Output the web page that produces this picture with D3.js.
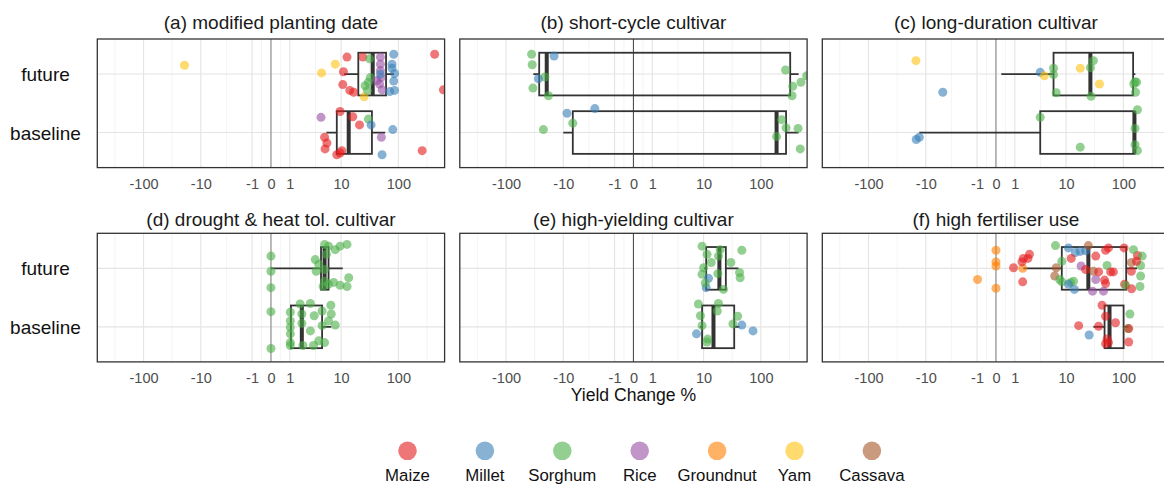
<!DOCTYPE html>
<html><head><meta charset="utf-8">
<script src="https://cdn.jsdelivr.net/npm/d3@7/dist/d3.min.js"></script>
<style>
html,body{margin:0;padding:0;background:#fff;}
svg{display:block;}
</style></head><body>
<svg id="chart" width="1164" height="487"></svg>
<script>
// ---------------- data ----------------
const panelTitles = ["(a) modified planting date","(b) short-cycle cultivar","(c) long-duration cultivar",
  "(d) drought & heat tol. cultivar","(e) high-yielding cultivar","(f) high fertiliser use"];
const periods = ["future","baseline"];
const cropCodes = ["Mz","Mi","Sg","Ri","Gn","Ym","Cs"];
const cropNames = ["Maize","Millet","Sorghum","Rice","Groundnut","Yam","Cassava"];
const xTickValues = [-100,-10,-1,0,1,10,100];
const xTickLabels = ["-100","-10","-1","0","1","10","100"];
const gridBreaks = [-1000,-100,-10,-1,0,1,10,100,1000];

// box statistics per panel: [lower whisker, q1, median, q3, upper whisker]
const boxFuture = [
  [11.3,20,35.7,61,84],
  [-33.4,-26.4,-19.5,325,455],
  [0.26,6.0,26.6,148,162],
  [0,4.4,5.1,6.0,10.7],
  [10.2,11.1,18.9,24.5,40.8],
  [1.6,8.4,24.5,112,173]
];
const boxBaseline = [
  [5.5,8.4,13.6,34.6,59],
  [-10,-6.8,188,275,455],
  [-13,3.45,156,158,158],
  [1.07,1.07,1.9,4.6,6.7],
  [8.6,9.4,14.9,34.3,42.5],
  [30,47,57.4,101,124]
];

// jittered points: [crop, yield change %, vertical jitter (category units)]
const ptsAFuture = [["Mz",12.7,-0.29],["Mz",24,-0.29],["Mz",11,-0.04],["Ym",7.9,-0.17],["Ym",4.5,-0.02],["Mz",10.7,0.18],
  ["Mz",14.2,0.28],["Mz",16.6,0.31],["Ym",25.3,0.39],["Mz",430,-0.34],["Mz",610,0.27],["Ym",-19.3,-0.15],
  ["Sg",30,0.14],["Sg",26.3,0.2],["Sg",32.4,0.06],["Sg",28.8,0.28],["Sg",31.5,-0.26],
  ["Ri",48.6,-0.29],["Ri",48.6,-0.17],["Ri",48.6,-0.06],["Ri",50,0.06],["Ri",47,0.17],["Ri",52,0.27],["Ri",42.5,0.11],
  ["Mi",83,-0.34],["Mi",77.5,-0.17],["Mi",77.5,-0.1],["Mi",86,-0.01],["Mi",83,0.12],["Mi",86,0.28],["Mi",70.8,0.3],["Mi",48.6,0.0]];
const ptsABaseline = [["Ri",4.4,-0.26],["Mz",9.6,-0.36],["Mz",16,-0.27],["Mz",21,-0.13],["Sg",30,-0.23],["Mi",33.4,-0.13],
  ["Mi",80,-0.05],["Ri",50.5,0.08],["Mz",5.1,0.08],["Mz",5.6,0.18],["Mz",5.2,0.28],["Mz",8.4,0.38],["Mz",10.3,0.31],
  ["Mz",9.6,0.35],["Mi",52,0.38],["Mz",260,0.31]];
const ptsBFuture = [["Sg",-35.8,-0.34],["Sg",-35,-0.16],["Mi",-14.5,-0.31],["Sg",-21,0.05],["Mi",-27.3,0.08],["Sg",-34,0.24],
  ["Sg",-18.2,0.37],["Sg",270,-0.07],["Sg",500,0.14],["Sg",360,0.21],["Sg",350,0.37],["Sg",630,0.03]];
const ptsBBaseline = [["Mi",-8.6,-0.33],["Mi",-2.7,-0.41],["Sg",-6.8,-0.16],["Sg",-22.3,-0.05],["Sg",230,-0.22],
  ["Sg",275,-0.08],["Sg",188,0.07],["Sg",445,-0.07],["Sg",487,0.28]];
const ptsCFuture = [["Ym",-14.9,-0.23],["Mi",-5,0.31],["Mi",3.45,-0.03],["Ym",4.1,0.03],["Sg",6,-0.1],["Sg",6,0.01],
  ["Sg",6.7,0.32],["Ym",17.7,-0.1],["Sg",26.6,-0.11],["Sg",30,-0.23],["Sg",27.3,0.38],["Ym",38.3,0.17],
  ["Sg",160,0.13],["Sg",170,0.14],["Sg",163,0.31],["Sg",152,0.17]];
const ptsCBaseline = [["Mi",-14.7,0.12],["Mi",-13,0.08],["Sg",3.45,-0.26],["Sg",176,-0.39],["Sg",160,-0.07],
  ["Sg",17.7,0.25],["Sg",160,0.21],["Sg",176,0.31]];
const ptsDFuture = [["Sg",0,-0.21],["Sg",0,0.05],["Sg",0,0.33],["Sg",5.1,-0.41],["Sg",6,-0.38],["Sg",7.9,-0.32],
  ["Sg",9.6,-0.38],["Sg",12.7,-0.41],["Sg",3.45,-0.15],["Sg",4,-0.07],["Sg",5.1,0.02],["Sg",3.6,0.05],["Sg",7.4,0.24],
  ["Sg",5.1,0.22],["Sg",13.6,0.16],["Sg",12.7,0.31],["Sg",4.8,0.31],["Sg",6,0.27],["Sg",9.6,0.29],["Sg",5.5,-0.24]];
const ptsDBaseline = [["Sg",0,-0.26],["Sg",0,0.37],["Sg",1.75,-0.39],["Sg",2.8,-0.4],["Sg",4.6,-0.27],["Sg",6.6,-0.37],
  ["Sg",6.7,-0.22],["Sg",6,-0.1],["Sg",7.9,-0.03],["Sg",4.6,-0.02],["Sg",3.3,-0.19],["Sg",1.9,-0.22],["Sg",1.03,-0.25],
  ["Sg",1.03,-0.1],["Sg",1.03,0.01],["Sg",1.03,0.12],["Sg",1.03,0.27],["Sg",1.03,0.32],["Sg",1.9,-0.06],["Sg",2.8,0.07],
  ["Sg",4,0.24],["Sg",5.1,0.27],["Sg",3.2,0.32],["Sg",2,0.32]];
const ptsEFuture = [["Sg",9.4,-0.38],["Sg",11.5,-0.24],["Sg",18.2,-0.21],["Sg",46.6,-0.31],["Sg",30,-0.1],["Sg",13.6,-0.1],
  ["Sg",10,-0.01],["Sg",9.4,0.1],["Sg",17.8,0.09],["Sg",42.5,0.07],["Sg",43.5,0.16],["Mi",12.2,0.17],["Mi",11.1,0.33],
  ["Sg",22.3,0.36],["Sg",10.7,0.25],["Sg",19.5,-0.32]];
const ptsEBaseline = [["Sg",8.1,-0.39],["Sg",18.2,-0.4],["Sg",17.4,-0.27],["Sg",8.8,-0.19],["Sg",39.4,-0.18],["Sg",32.6,-0.05],
  ["Mi",46.6,-0.03],["Mi",73,0.07],["Mi",7.5,0.12],["Sg",9.4,-0.02],["Sg",11.8,0.21],["Sg",11.5,0.26]];
const ptsFFuture = [["Gn",0,-0.31],["Gn",0,-0.11],["Gn",0,-0.04],["Gn",0,0.34],["Gn",-0.97,0.19],["Gn",1.55,0],
  ["Mz",0.92,-0.01],["Mz",1.5,-0.11],["Mz",2.0,-0.17],["Mz",2.15,-0.24],["Mz",1.6,-0.17],["Mz",1.55,0.23],
  ["Sg",6.5,-0.39],["Cs",6.7,-0.01],["Cs",6.3,0.13],["Sg",8.4,-0.12],["Sg",7.7,0.19],["Sg",8.4,0.23],
  ["Mi",11,-0.35],["Mi",14.5,-0.27],["Mi",17.7,-0.29],["Mi",22,-0.3],["Sg",12,0.24],["Sg",13.5,0.22],["Mi",11,0.27],["Mi",14,0.36],
  ["Mz",12.3,-0.17],["Ri",18.3,-0.04],["Cs",24.5,-0.39],["Cs",30,0.05],["Ri",33,0.19],["Mz",22,0.02],["Mz",37,0.06],
  ["Mz",33,-0.21],["Mz",49,-0.31],["Mz",55,-0.35],["Sg",52,-0.05],["Mz",60,0.06],["Mz",67,0.06],["Mz",47,0.2],
  ["Mz",49,0.26],["Ri",29,0.39],["Ri",45,0.39],["Mz",103,-0.35],["Mz",105,0.27],["Sg",110,0.29],["Mz",139,0.35],
  ["Mz",176,-0.22],["Sg",213,-0.21],["Cs",138,-0.1],["Sg",200,-0.05],["Mz",170,-0.12],["Sg",200,0.13],["Sg",195,0.31],
  ["Mz",138,0.05],["Sg",150,-0.32]];
const ptsFBaseline = [["Mz",42.5,-0.37],["Sg",130,-0.22],["Mz",16.6,-0.02],["Mz",37,-0.01],["Mi",25.3,0.14],["Mz",73,-0.07],
  ["Mz",49,-0.18],["Sg",120,0.03],["Mz",52,0.21],["Mz",55,0.27],["Mz",49,0.29],["Mz",124,0.26],["Mz",124,0.03]];

const futurePts = [ptsAFuture,ptsBFuture,ptsCFuture,ptsDFuture,ptsEFuture,ptsFFuture];
const baselinePts = [ptsABaseline,ptsBBaseline,ptsCBaseline,ptsDBaseline,ptsEBaseline,ptsFBaseline];

// ---------------- layout & style ----------------
const FONT = '"Liberation Sans", Arial, Helvetica, sans-serif';
const colX = [97.3, 459.8, 822.3], PW = 347.3;
const rowY = [39, 233.3], PH = 128.6;
const titleBase = [29.2, 225.7];
const tf = v => Math.asinh(v / 1.2);      // pseudo-log transform
const tfLimit = 6.973;
const color = d3.scaleOrdinal(cropCodes, ["#E41A1C","#377EB8","#4DAF4A","#984EA3","#FF7F00","#FFC20E","#A65628"]);
const zeroColor = ["#8c8c8c","#505050","#8c8c8c","#8c8c8c","#505050","#8c8c8c"];

const svg = d3.select("#chart").attr("font-family", FONT);
svg.append("rect").attr("width",1164).attr("height",487).attr("fill","#fff");

panelTitles.forEach((title, i) => {
  const col = i % 3, row = Math.floor(i / 3);
  const x0 = colX[col], y0 = rowY[row];
  const lin = d3.scaleLinear().domain([-tfLimit, tfLimit]).range([x0, x0 + PW]);
  const x = v => lin(tf(v));
  x.range = () => lin.range();
  x.copy = () => x;
  const y = d3.scalePoint().domain(periods).range([y0, y0 + PH]).padding(0.6);
  const step = y.step();

  const g = svg.append("g");
  const cid = "clip" + i;
  g.append("clipPath").attr("id", cid).append("rect")
    .attr("x", x0).attr("y", y0).attr("width", PW).attr("height", PH);
  const body = g.append("g").attr("clip-path", `url(#${cid})`);

  const tb = gridBreaks.map(tf);
  const minor = d3.pairs(tb).map(([a, b]) => (a + b) / 2);
  body.selectAll("line.minor").data(minor).join("line").attr("class","minor")
    .attr("x1", d => lin(d)).attr("x2", d => lin(d)).attr("y1", y0).attr("y2", y0 + PH)
    .attr("stroke", "#efefef").attr("stroke-width", 0.7);
  body.selectAll("line.major").data(gridBreaks).join("line").attr("class","major")
    .attr("x1", d => x(d)).attr("x2", d => x(d)).attr("y1", y0).attr("y2", y0 + PH)
    .attr("stroke", "#e4e4e4").attr("stroke-width", 1.1);
  body.selectAll("line.hgrid").data(periods).join("line").attr("class","hgrid")
    .attr("x1", x0).attr("x2", x0 + PW).attr("y1", d => y(d)).attr("y2", d => y(d))
    .attr("stroke", "#e4e4e4").attr("stroke-width", 1.1);
  body.append("line").attr("x1", x(0)).attr("x2", x(0)).attr("y1", y0).attr("y2", y0 + PH)
    .attr("stroke", zeroColor[i]).attr("stroke-width", 1.1);

  // boxplots
  periods.forEach((p, k) => {
    const s = (k === 0 ? boxFuture : boxBaseline)[i];
    const cy = y(p), hh = step * 0.365;
    const bg = body.append("g").attr("stroke", "#333").attr("fill", "none");
    if (s[0] < s[1]) bg.append("line").attr("x1", x(s[0])).attr("x2", x(s[1])).attr("y1", cy).attr("y2", cy).attr("stroke-width", 1.8);
    if (s[4] > s[3]) bg.append("line").attr("x1", x(s[3])).attr("x2", x(s[4])).attr("y1", cy).attr("y2", cy).attr("stroke-width", 1.8);
    bg.append("rect").attr("x", x(s[1])).attr("y", cy - hh).attr("width", x(s[3]) - x(s[1])).attr("height", 2 * hh)
      .attr("stroke-width", 1.8);
    bg.append("line").attr("x1", x(s[2])).attr("x2", x(s[2])).attr("y1", cy - hh).attr("y2", cy + hh).attr("stroke-width", 4);
  });

  // points
  [[futurePts[i], "future"], [baselinePts[i], "baseline"]].forEach(([pts, p]) => {
    body.append("g").selectAll("circle").data(pts).join("circle")
      .attr("cx", d => x(d[1])).attr("cy", d => y(p) + d[2] * step)
      .attr("r", 4.5).attr("fill", d => color(d[0])).attr("fill-opacity", 0.6);
  });

  // border
  g.append("rect").attr("x", x0).attr("y", y0).attr("width", PW).attr("height", PH)
    .attr("fill", "none").attr("stroke", "#333").attr("stroke-width", 1.3);

  // title
  g.append("text").attr("x", x0 + PW / 2).attr("y", titleBase[row]).attr("text-anchor", "middle")
    .attr("font-size", 19).attr("fill", "#1a1a1a").text(title);

  // x axis
  const ax = g.append("g").attr("transform", `translate(0,${y0 + PH})`)
    .call(d3.axisBottom(x).tickValues(xTickValues).tickFormat((d, j) => xTickLabels[j]).tickSize(0).tickPadding(11.2));
  ax.select(".domain").remove();
  ax.attr("font-size", 14.5).attr("font-family", FONT).style("color", "#4d4d4d");

  // y labels on first column
  if (col === 0) {
    g.selectAll("text.ylab").data(periods).join("text").attr("class","ylab")
      .attr("x", 45.5).attr("y", d => y(d) + 7).attr("text-anchor", "middle")
      .attr("font-size", 19).attr("fill", "#111").text(d => d);
  }
});

// x axis title
svg.append("text").attr("x", colX[1] + PW / 2).attr("y", 401).attr("text-anchor", "middle")
  .attr("font-size", 17.6).attr("fill", "#111").text("Yield Change %");

// legend
const lx = d3.scalePoint().domain(cropCodes).range([407.5, 871.9]);
const lg = svg.append("g");
lg.selectAll("circle").data(cropCodes).join("circle")
  .attr("cx", d => lx(d)).attr("cy", 450.8).attr("r", 9.3)
  .attr("fill", d => color(d)).attr("fill-opacity", 0.6);
lg.selectAll("text").data(cropCodes).join("text")
  .attr("x", d => lx(d)).attr("y", 480.5).attr("text-anchor", "middle")
  .attr("font-size", 16.8).attr("fill", "#111").text((d, j) => cropNames[j]);
</script>
</body></html>
